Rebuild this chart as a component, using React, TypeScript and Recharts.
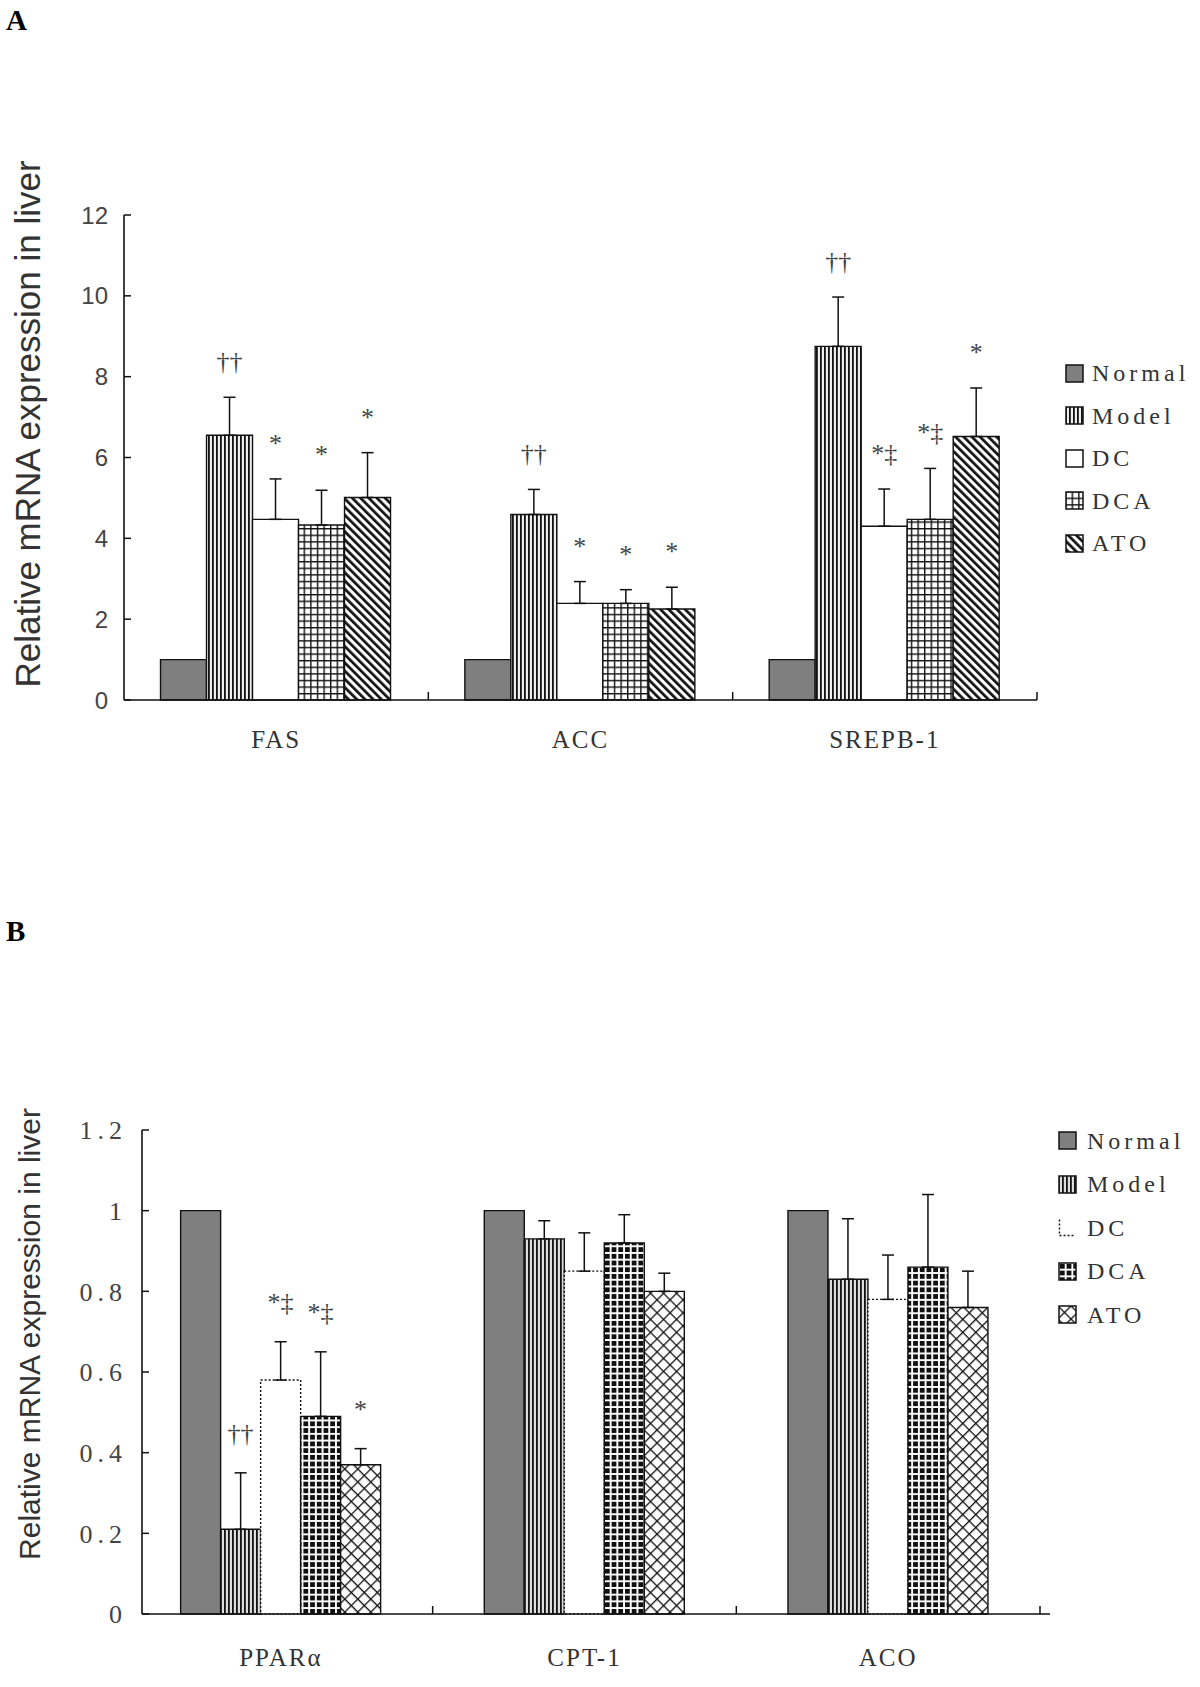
import React from 'react';
import { BarChart, Bar, XAxis, YAxis, ErrorBar, LabelList, Legend } from 'recharts';

const SERIF = '"Liberation Serif", "Times New Roman", serif';
const SANS = '"Liberation Sans", Arial, sans-serif';
const INK = '#111';

const groups = ['Normal', 'Model', 'DC', 'DCA', 'ATO'];

// A: lipogenic genes
const genesA = ['FAS', 'ACC', 'SREPB-1'];
const normalA = [1, 1, 1];
const modelA = [6.55, 4.59, 8.75];
const dcA = [4.47, 2.39, 4.3];
const dcaA = [4.33, 2.39, 4.47];
const atoA = [5.01, 2.25, 6.52];
const modelErrA = [0.94, 0.62, 1.22];
const dcErrA = [1.0, 0.54, 0.92];
const dcaErrA = [0.86, 0.34, 1.26];
const atoErrA = [1.11, 0.54, 1.2];
const modelSigA = ['††', '††', '††'];
const dcSigA = ['*', '*', '*‡'];
const dcaSigA = ['*', '*', '*‡'];
const atoSigA = ['*', '*', '*'];
const ticksA = [0, 2, 4, 6, 8, 10, 12];

// B: fatty acid oxidation genes
const genesB = ['PPARα', 'CPT-1', 'ACO'];
const normalB = [1, 1, 1];
const modelB = [0.21, 0.93, 0.83];
const dcB = [0.58, 0.85, 0.78];
const dcaB = [0.49, 0.92, 0.86];
const atoB = [0.37, 0.8, 0.76];
const modelErrB = [0.14, 0.045, 0.15];
const dcErrB = [0.095, 0.095, 0.11];
const dcaErrB = [0.16, 0.07, 0.18];
const atoErrB = [0.04, 0.045, 0.09];
const modelSigB = ['††', '', ''];
const dcSigB = ['*‡', '', ''];
const dcaSigB = ['*‡', '', ''];
const atoSigB = ['*', '', ''];
const ticksB = [0, 0.2, 0.4, 0.6, 0.8, 1, 1.2];

const noErr = [0, 0, 0];
const noSig = ['', '', ''];

const buildRows = (genes: string[], means: number[][], errs: number[][], sigs: string[][]) =>
  genes.map((gene, i) => {
    const row: Record<string, any> = { gene };
    groups.forEach((g, k) => {
      row[g] = means[k][i];
      row[g + 'Err'] = [0, errs[k][i]];
      row[g + 'Sig'] = sigs[k][i];
    });
    return row;
  });

const rowsA = buildRows(
  genesA,
  [normalA, modelA, dcA, dcaA, atoA],
  [noErr, modelErrA, dcErrA, dcaErrA, atoErrA],
  [noSig, modelSigA, dcSigA, dcaSigA, atoSigA]
);
const rowsB = buildRows(
  genesB,
  [normalB, modelB, dcB, dcaB, atoB],
  [noErr, modelErrB, dcErrB, dcaErrB, atoErrB],
  [noSig, modelSigB, dcSigB, dcaSigB, atoSigB]
);

const fillsA: Record<string, string> = {
  Normal: '#7f7f7f',
  Model: 'url(#vA)',
  DC: '#fff',
  DCA: 'url(#gridA)',
  ATO: 'url(#diagA)',
};
const fillsB: Record<string, string> = {
  Normal: '#7f7f7f',
  Model: 'url(#vB)',
  DC: '#fff',
  DCA: 'url(#gridB)',
  ATO: 'url(#xB)',
};

const Patterns = () => (
  <svg width={0} height={0} style={{ position: 'absolute' }}>
    <defs>
      <pattern id="vA" width="4" height="4" patternUnits="userSpaceOnUse">
        <rect width="4" height="4" fill="#eee" />
        <rect width="1.8" height="4" fill={INK} />
      </pattern>
      <pattern id="gridA" width="6.6" height="6.6" patternUnits="userSpaceOnUse">
        <rect width="6.6" height="6.6" fill="#fff" />
        <rect width="1.4" height="6.6" fill={INK} />
        <rect width="6.6" height="1.4" fill={INK} />
      </pattern>
      <pattern id="diagA" width="5.8" height="5.8" patternUnits="userSpaceOnUse" patternTransform="rotate(-45)">
        <rect width="5.8" height="5.8" fill="#fff" />
        <rect width="2.7" height="5.8" fill={INK} />
      </pattern>
      <pattern id="vB" width="4" height="4" patternUnits="userSpaceOnUse">
        <rect width="4" height="4" fill="#ddd" />
        <rect width="1.8" height="4" fill={INK} />
      </pattern>
      <pattern id="gridB" width="6.7" height="6.7" patternUnits="userSpaceOnUse">
        <rect width="6.7" height="6.7" fill={INK} />
        <rect width="1.9" height="6.7" fill="#fff" />
        <rect width="6.7" height="1.9" fill="#fff" />
      </pattern>
      <pattern id="xB" width="9.2" height="9.2" patternUnits="userSpaceOnUse" patternTransform="rotate(45)">
        <rect width="9.2" height="9.2" fill="#fff" />
        <rect width="1.3" height="9.2" fill={INK} />
        <rect width="9.2" height="1.3" fill={INK} />
      </pattern>
    </defs>
  </svg>
);

const sigLabel = (rows: any[], g: string, lift: number) => (p: any) => {
  const vb = p.viewBox && p.viewBox.width != null ? p.viewBox : p;
  const { x, y, width, height } = vb;
  const text = rows[p.index] ? rows[p.index][g + 'Sig'] : '';
  if (!text) return null;
  const v = rows[p.index][g];
  const e = rows[p.index][g + 'Err'][1];
  const top = y - (e * height) / v;
  return (
    <text x={x + width / 2} y={top - lift} textAnchor="middle" fontFamily={SERIF} fontSize={26} fill="#444">
      {text}
    </text>
  );
};

const makeCatTick = (below: number) => (p: any) => {
  const { x, y, payload } = p;
  const half = payload.offset ?? 0;
  const axisY = y - 20;
  return (
    <g>
      <line x1={x + half} x2={x + half} y1={axisY} y2={axisY - 8} stroke={INK} strokeWidth={1.5} />
      <text x={x} y={axisY + below} textAnchor="middle" fontFamily={SERIF} fontSize={25} fill="#333" letterSpacing={2}>
        {payload.value}
      </text>
    </g>
  );
};

type LegendProps = { fills: Record<string, string>; dottedDC: boolean; rowH: number; gapX: number };

const LegendBox = ({ fills, dottedDC, rowH, gapX }: LegendProps) => (
  <div style={{ fontFamily: SERIF, fontSize: 24, color: '#333', letterSpacing: 4 }}>
    {groups.map((g) => (
      <div key={g} style={{ display: 'flex', alignItems: 'center', height: rowH }}>
        <svg width={19} height={19} style={{ marginRight: gapX, flex: 'none' }}>
          {g === 'DC' && dottedDC ? (
            <path d="M1.5 1.5 V17.5 H17.5" fill="none" stroke={INK} strokeWidth={1.4} strokeDasharray="2 2" />
          ) : (
            <rect x={1} y={1} width={17} height={17} fill={fills[g]} stroke={INK} strokeWidth={1.5} />
          )}
        </svg>
        <span style={{ lineHeight: 1 }}>{g}</span>
      </div>
    ))}
  </div>
);

type PanelProps = {
  rows: any[];
  ticks: number[];
  domain: [number, number];
  height: number;
  margin: { top: number; right: number; bottom: number; left: number };
  padding: { left: number; right: number };
  fills: Record<string, string>;
  dottedDC: boolean;
  tickStyle: Record<string, any>;
  tickMargin: number;
  labelX: number;
  labelY: number;
  labelSize: number;
  labelBelow: number;
  sigLift: number;
  legendLeft: number;
  legendTop: number;
  legendRow: number;
  legendGap: number;
  gap: string;
};

function Panel(props: PanelProps) {
  const { rows, ticks, domain, height, margin, fills, dottedDC, tickStyle } = props;
  return (
    <BarChart width={1200} height={height} data={rows} margin={margin} barGap={0} barCategoryGap={props.gap}>
      <XAxis
        dataKey="gene"
        height={60}
        interval={0}
        padding={props.padding}
        tickSize={0}
        tickMargin={20}
        tickLine={false}
        axisLine={{ stroke: INK, strokeWidth: 1.6 }}
        tick={makeCatTick(props.labelBelow)}
      />
      <YAxis
        width={60}
        domain={domain}
        ticks={ticks}
        interval={0}
        tickSize={-7}
        tickMargin={props.tickMargin}
        axisLine={{ stroke: INK, strokeWidth: 1.6 }}
        tickLine={{ stroke: INK, strokeWidth: 1.5 }}
        tick={tickStyle}
        label={{
          content: () => (
            <text
              transform={`translate(${props.labelX}, ${props.labelY}) rotate(-90)`}
              textAnchor="middle"
              fontFamily={SANS}
              fontSize={props.labelSize}
              fill="#333"
            >
              Relative mRNA expression in liver
            </text>
          ),
        }}
      />
      <Legend
        layout="horizontal"
        verticalAlign="middle"
        align="center"
        wrapperStyle={{ left: props.legendLeft, top: props.legendTop, width: 150 }}
        content={() => (
          <LegendBox fills={fills} dottedDC={dottedDC} rowH={props.legendRow} gapX={props.legendGap} />
        )}
      />
      {groups.map((g) => (
        <Bar
          key={g}
          dataKey={g}
          fill={fills[g]}
          stroke={INK}
          strokeWidth={1.4}
          strokeDasharray={g === 'DC' && dottedDC ? '2 2' : undefined}
          isAnimationActive={false}
        >
          {g !== 'Normal' && (
            <ErrorBar dataKey={g + 'Err'} direction="y" width={6} stroke={INK} strokeWidth={1.5} />
          )}
          {g !== 'Normal' && <LabelList dataKey={g + 'Sig'} content={sigLabel(rows, g, props.sigLift)} />}
        </Bar>
      ))}
    </BarChart>
  );
}

export default function App() {
  return (
    <div
      style={{
        position: 'absolute',
        left: 0,
        top: 0,
        width: 1200,
        height: 1687,
        background: '#fff',
        overflow: 'hidden',
      }}
    >
      <Patterns />
      <div style={{ position: 'absolute', left: 0, top: 0 }}>
        <Panel
          rows={rowsA}
          ticks={ticksA}
          domain={[0, 12]}
          height={800}
          margin={{ top: 215, right: 163, bottom: 40, left: 64 }}
          padding={{ left: 0, right: 0 }}
          fills={fillsA}
          dottedDC={false}
          tickStyle={{ fontFamily: SANS, fontSize: 24, fill: '#444' }}
          tickMargin={23}
          labelX={40}
          labelY={424}
          labelSize={35}
          labelBelow={48}
          sigLift={27}
          legendLeft={1065}
          legendTop={352}
          legendRow={42.5}
          legendGap={8}
          gap="12%"
        />
      </div>
      <div style={{ position: 'absolute', left: 0, top: 850 }}>
        <Panel
          rows={rowsB}
          ticks={ticksB}
          domain={[0, 1.2]}
          height={837}
          margin={{ top: 280, right: 150, bottom: 13, left: 82 }}
          padding={{ left: -13, right: 10 }}
          fills={fillsB}
          dottedDC={true}
          tickStyle={{ fontFamily: SERIF, fontSize: 26, fill: '#444', letterSpacing: 5 }}
          tickMargin={22}
          labelX={40}
          labelY={484}
          labelSize={30}
          labelBelow={52}
          sigLift={31}
          legendLeft={1058}
          legendTop={269}
          legendRow={43.5}
          legendGap={10}
          gap="17%"
        />
      </div>
      <div
        style={{
          position: 'absolute',
          left: 6,
          top: 5,
          fontFamily: SERIF,
          fontWeight: 'bold',
          fontSize: 29,
          lineHeight: '30px',
        }}
      >
        A
      </div>
      <div
        style={{
          position: 'absolute',
          left: 6,
          top: 916,
          fontFamily: SERIF,
          fontWeight: 'bold',
          fontSize: 29,
          lineHeight: '30px',
        }}
      >
        B
      </div>
    </div>
  );
}
